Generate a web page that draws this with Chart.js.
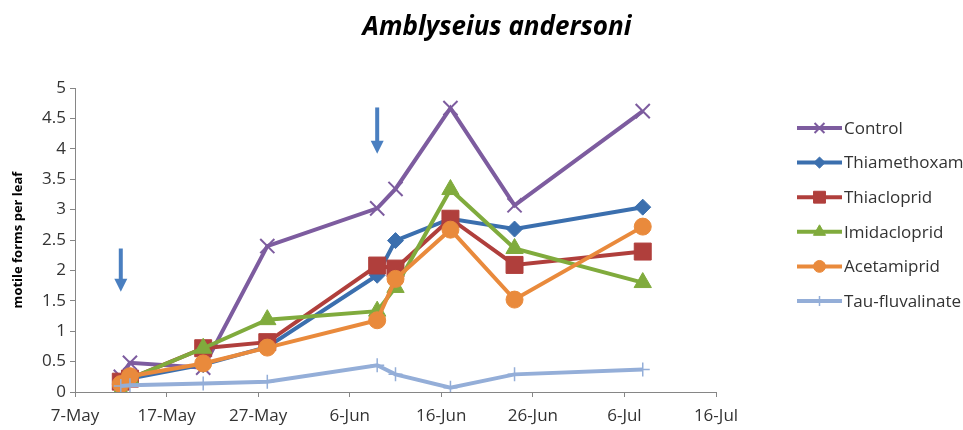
<!DOCTYPE html>
<html>
<head>
<meta charset="utf-8">
<script src="https://cdn.jsdelivr.net/npm/chart.js@4/dist/chart.umd.min.js"></script>
<style>
  html, body { margin: 0; padding: 0; background: #fff; }
  #wrap { width: 963px; height: 430px; position: relative; }
</style>
</head>
<body>
<div id="wrap"><canvas id="chart"></canvas></div>
<script>
// sampling dates and tick labels
const sampleDates = ['12-May', '13-May', '21-May', '28-May', '9-Jun', '11-Jun', '17-Jun', '24-Jun', '8-Jul'];
const tickLabels = ['7-May', '17-May', '27-May', '6-Jun', '16-Jun', '26-Jun', '6-Jul', '16-Jul'];

// motile forms per leaf
const control      = [0.25, 0.48, 0.40, 2.40, 3.02, 3.34, 4.67, 3.07, 4.62];
const thiamethoxam = [0.15, 0.22, 0.45, 0.74, 1.92, 2.49, 2.85, 2.68, 3.04];
const thiacloprid  = [0.17, 0.22, 0.72, 0.82, 2.08, 2.03, 2.85, 2.09, 2.31];
const imidacloprid = [0.02, 0.22, 0.72, 1.19, 1.33, 1.72, 3.33, 2.36, 1.80];
const acetamiprid  = [0.13, 0.26, 0.47, 0.73, 1.18, 1.86, 2.67, 1.52, 2.72];
const taufluval    = [0.10, 0.11, 0.14, 0.17, 0.44, 0.29, 0.07, 0.29, 0.37];

// treatment arrows (date, from value, to value)
const arrowDates = ['12-May', '9-Jun'];
const arrowFrom = [2.36, 4.68];
const arrowTo = [1.65, 3.92];

const months = { May: 4, Jun: 5, Jul: 6 };
const dayOf = (s) => {
    const [d, m] = s.split('-');
    return (Date.UTC(2013, months[m], +d) - Date.UTC(2013, 4, 7)) / 86400000;
};
const pts = (vals) => vals.map((v, i) => ({ x: dayOf(sampleDates[i]), y: v }));

const series = [
    { label: 'Control', data: control, color: '#7d5c9f', style: 'crossRot', r: 10, bw: 2 },
    { label: 'Thiamethoxam', data: thiamethoxam, color: '#3b6fae', style: 'rectRot', r: 8, bw: 1 },
    { label: 'Thiacloprid', data: thiacloprid, color: '#b03f3c', style: 'rect', r: 12, bw: 1 },
    { label: 'Imidacloprid', data: imidacloprid, color: '#80ab3d', style: 'triangle', r: 10, bw: 1 },
    { label: 'Acetamiprid', data: acetamiprid, color: '#e98a3c', style: 'circle', r: 8.5, bw: 1 },
    { label: 'Tau-fluvalinate', data: taufluval, color: '#94aed8', style: 'cross', r: 7, bw: 1.5 }
];

const font = "'Open Sans', 'DejaVu Sans', sans-serif";

// title, arrows and the Excel-like legend
const extras = {
    id: 'extras',
    afterDatasetsDraw(chart) {
        const ctx = chart.ctx;
        const xs = chart.scales.x, ys = chart.scales.y;
        ctx.save();
        ctx.fillStyle = '#000';
        ctx.font = `italic bold 26px ${font}`;
        ctx.textAlign = 'center';
        ctx.textBaseline = 'middle';
        ctx.fillText('Amblyseius andersoni', 497, 28);

        // arrows
        ctx.strokeStyle = '#4a7fc0';
        ctx.fillStyle = '#4a7fc0';
        ctx.lineWidth = 4;
        arrowDates.forEach((d, i) => {
            const x = xs.getPixelForValue(dayOf(d));
            const y0 = ys.getPixelForValue(arrowFrom[i]);
            const y1 = ys.getPixelForValue(arrowTo[i]);
            ctx.beginPath();
            ctx.moveTo(x, y0);
            ctx.lineTo(x, y1 - 12);
            ctx.stroke();
            ctx.beginPath();
            ctx.moveTo(x - 6.5, y1 - 13);
            ctx.lineTo(x + 6.5, y1 - 13);
            ctx.lineTo(x, y1);
            ctx.closePath();
            ctx.fill();
        });

        // legend
        ctx.font = `17px ${font}`;
        ctx.textAlign = 'left';
        chart.data.datasets.forEach((ds, i) => {
            const s = series[i];
            const y = 128 + i * 34.6;
            ctx.strokeStyle = s.color;
            ctx.fillStyle = s.color;
            ctx.lineWidth = 4;
            ctx.beginPath();
            ctx.moveTo(797, y);
            ctx.lineTo(842, y);
            ctx.stroke();
            ctx.lineWidth = s.bw;
            Chart.helpers.drawPoint(ctx, { pointStyle: s.style, radius: s.r * 0.7, borderWidth: s.bw, rotation: 0 }, 819.5, y);
            ctx.fillStyle = '#333';
            ctx.fillText(ds.label, 844, y + 1);
        });
        ctx.restore();
    }
};

new Chart(document.getElementById('chart'), {
    type: 'line',
    data: {
        datasets: series.map((s, i) => ({
            label: s.label,
            data: pts(s.data),
            borderColor: s.color,
            backgroundColor: s.color,
            borderWidth: 4,
            pointStyle: s.style,
            pointRadius: s.r,
            pointHoverRadius: s.r,
            pointBorderColor: s.color,
            pointBackgroundColor: s.color,
            pointBorderWidth: s.bw,
            tension: 0,
            order: series.length - i
        }))
    },
    options: {
        responsive: true,
        maintainAspectRatio: false,
        animation: false,
        layout: { padding: { top: 88, right: 247, left: 0, bottom: 0 } },
        plugins: {
            legend: { display: false },
            title: { display: false },
            tooltip: { enabled: false }
        },
        scales: {
            x: {
                type: 'linear',
                min: 0,
                max: 70,
                afterBuildTicks: (scale) => {
                    scale.ticks = tickLabels.map((t, i) => ({ value: i * 10 }));
                },
                afterFit: (scale) => { scale.height = 38; },
                ticks: {
                    callback: (v, i) => tickLabels[i],
                    color: '#333',
                    font: { family: font, size: 17 },
                    padding: 9,
                    maxRotation: 0,
                    autoSkip: false
                },
                grid: { drawOnChartArea: false, color: '#868686', tickLength: 5 },
                border: { color: '#868686', width: 1 }
            },
            y: {
                min: 0,
                max: 5,
                afterFit: (scale) => { scale.width = 75; },
                ticks: {
                    stepSize: 0.5,
                    callback: (v) => String(Math.round(v * 10) / 10),
                    color: '#333',
                    font: { family: font, size: 17 },
                    padding: 4
                },
                title: {
                    display: true,
                    text: 'motile forms per leaf',
                    color: '#000',
                    font: { family: font, size: 13, weight: 'bold' },
                    padding: { top: 10, bottom: 0 }
                },
                grid: { drawOnChartArea: false, color: '#868686', tickLength: 5 },
                border: { color: '#868686', width: 1 }
            }
        }
    },
    plugins: [extras]
});
</script>
</body>
</html>
